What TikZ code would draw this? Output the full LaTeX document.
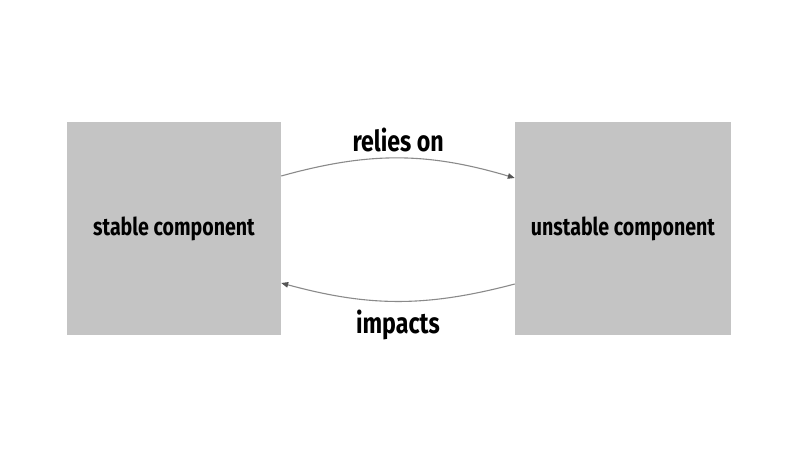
\documentclass[tikz,border=0pt]{standalone}
\usepackage{fontspec}
\setmainfont{Fira Sans}[FakeStretch=0.8]
\usepackage{xcolor}
\usepackage{tikz}
\usetikzlibrary{positioning,arrows.meta}

\definecolor{boxgray}{HTML}{C4C4C4}
\definecolor{linegray}{HTML}{8A8A8A}
\definecolor{tipgray}{HTML}{555555}

\begin{document}
\begin{tikzpicture}[x=1pt,y=1pt,
    comp/.style={fill=boxgray,draw=none,inner sep=0pt,font=\fontsize{24.5}{27}\selectfont\bfseries},
    flow/.style={draw=linegray,line width=1.1pt,-{Triangle[length=7pt,width=5.5pt,fill=tipgray,color=tipgray]}},
    lbl/.style={font=\fontsize{29}{32}\selectfont\bfseries,inner sep=0pt}]
  \useasboundingbox (0,0) rectangle (800,450);
  \node[comp,minimum width=214,minimum height=213] (stable) at (174,221.5) {stable component};
  \node[comp,minimum width=216,minimum height=213] (unstable) at (623,221.5) {unstable component};
  \draw[flow] ([yshift=52.5]stable.east) to[bend left=16] coordinate[midway] (top) ([yshift=50.5]unstable.west);
  \draw[flow] ([yshift=-55.5]unstable.west) to[bend left=15] coordinate[midway] (bot) ([yshift=-54.5]stable.east);
  \node[lbl] (relies) at ([yshift=18]top) {relies on};
  \node[lbl] (impacts) at ([yshift=-24]bot) {impacts};
\end{tikzpicture}
\end{document}
